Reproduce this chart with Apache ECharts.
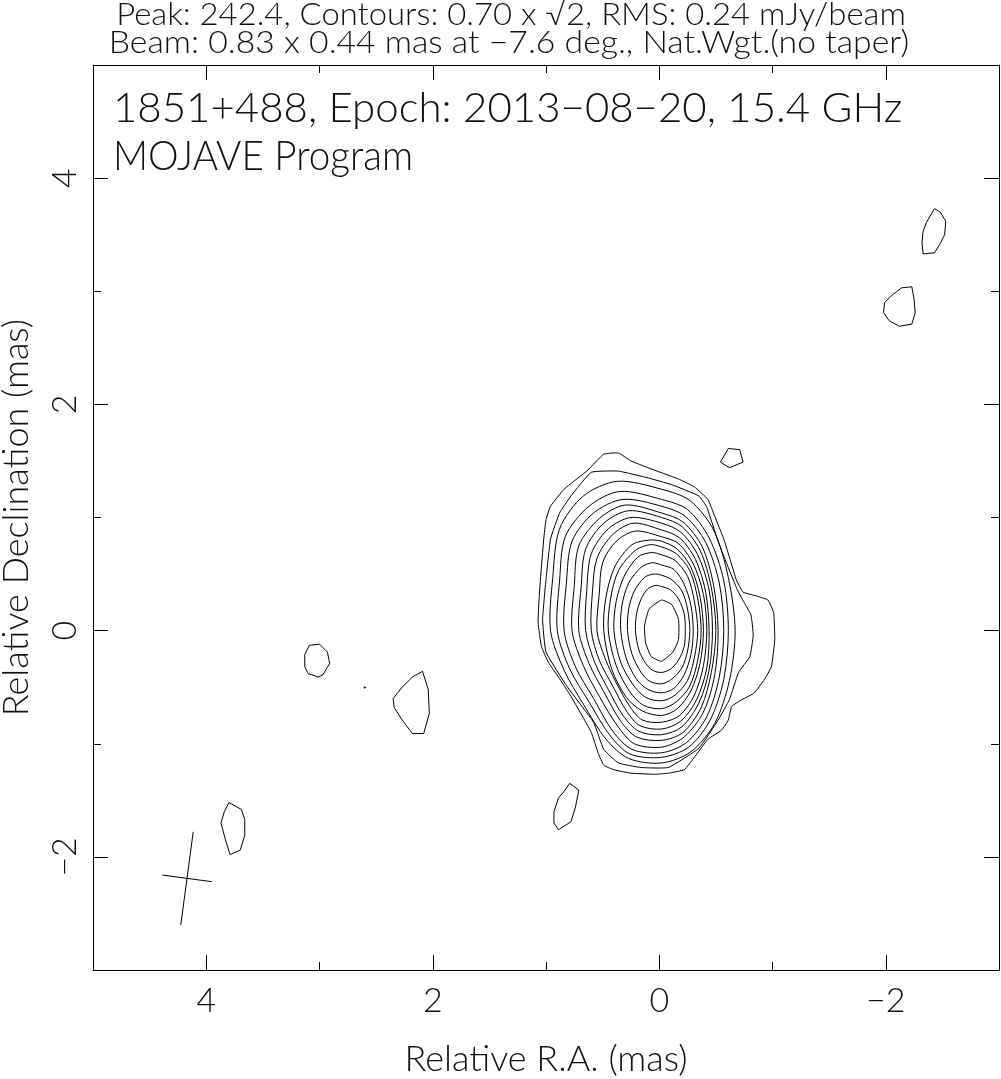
<!DOCTYPE html>
<html><head><meta charset="utf-8">
<script src="https://cdn.jsdelivr.net/npm/echarts@6/dist/echarts.min.js"></script>
<style>html,body{margin:0;padding:0;background:#fff}#c{width:1001px;height:1079px}</style>
</head><body><div id="c"></div>
<script>
// ---- Data (mas: [relative R.A., relative Dec]) ----
const headerLine1 = 'Peak: 242.4, Contours: 0.70 x \u221A2, RMS: 0.24 mJy/beam';
const headerLine2 = 'Beam: 0.83 x 0.44 mas at \u22127.6 deg., Nat.Wgt.(no taper)';
const titleLine1 = '1851+488, Epoch: 2013\u221208\u221220, 15.4 GHz';
const titleLine2 = 'MOJAVE Program';
const xAxisTitle = 'Relative R.A. (mas)';
const yAxisTitle = 'Relative Declination (mas)';
const xMajorTicks = [4, 2, 0, -2];
const xMinorTicks = [3, 1, -1];
const yMajorTicks = [4, 2, 0, -2];
const yMinorTicks = [3, 1, -1];

// contour levels 0.70 mJy/beam x sqrt(2)^k, k = 0 (outermost) .. 16 (innermost)
const level0 = [[0.49,1.56],[0.36,1.57],[0.25,1.50],[0.10,1.44],[-0.17,1.34],[-0.31,1.27],[-0.43,1.16],[-0.49,1.01],[-0.57,0.81],[-0.68,0.45],[-0.71,0.39],[-0.74,0.34],[-0.88,0.30],[-0.96,0.27],[-1.01,0.16],[-1.02,-0.08],[-0.99,-0.32],[-0.93,-0.43],[-0.84,-0.55],[-0.73,-0.61],[-0.64,-0.67],[-0.61,-0.79],[-0.55,-0.88],[-0.43,-0.96],[-0.31,-1.12],[-0.22,-1.23],[-0.08,-1.26],[0.04,-1.27],[0.25,-1.26],[0.40,-1.23],[0.49,-1.19],[0.54,-1.08],[0.60,-0.90],[0.66,-0.79],[0.78,-0.58],[0.89,-0.41],[0.98,-0.28],[1.04,-0.14],[1.07,0.07],[1.06,0.30],[1.04,0.57],[1.02,0.81],[1.0,0.98],[0.96,1.10],[0.84,1.25],[0.63,1.42]];
const level1 = [[0.60,1.40],[0.36,1.41],[0.10,1.35],[-0.11,1.29],[-0.35,1.19],[-0.42,1.09],[-0.53,0.76],[-0.69,0.36],[-0.76,0.23],[-0.81,0.14],[-0.83,-0.04],[-0.80,-0.23],[-0.70,-0.37],[-0.62,-0.61],[-0.52,-0.79],[-0.35,-1.04],[-0.08,-1.21],[0.16,-1.21],[0.36,-1.17],[0.49,-1.05],[0.58,-0.81],[0.81,-0.50],[1.0,-0.19],[1.03,0.10],[1.0,0.45],[0.96,0.81],[0.88,1.04],[0.78,1.19]];
const level2 = [[-0.02,1.25],[-0.27,1.15],[-0.48,0.89],[-0.61,0.47],[-0.67,0],[-0.62,-0.44],[-0.49,-0.82],[-0.28,-1.07],[-0.02,-1.17],[0.27,-1.13],[0.47,-0.96],[0.67,-0.65],[0.84,-0.35],[0.96,0],[0.94,0.47],[0.88,0.90],[0.67,1.19],[0.37,1.32]];
const level3 = [[-0.02,1.16],[-0.25,1.07],[-0.44,0.82],[-0.57,0.44],[-0.61,0],[-0.57,-0.43],[-0.45,-0.79],[-0.26,-1.03],[-0.02,-1.12],[0.26,-1.09],[0.44,-0.92],[0.62,-0.63],[0.79,-0.34],[0.90,0],[0.88,0.44],[0.83,0.83],[0.62,1.10],[0.35,1.23]];
const level4 = [[-0.02,1.10],[-0.23,1.01],[-0.41,0.78],[-0.53,0.42],[-0.57,0],[-0.53,-0.41],[-0.42,-0.76],[-0.24,-0.99],[-0.02,-1.08],[0.24,-1.05],[0.41,-0.89],[0.58,-0.60],[0.74,-0.32],[0.84,0],[0.82,0.42],[0.77,0.79],[0.58,1.04],[0.32,1.16]];
const level5 = [[-0.02,1.04],[-0.21,0.96],[-0.38,0.74],[-0.48,0.40],[-0.52,0],[-0.49,-0.39],[-0.39,-0.72],[-0.22,-0.94],[-0.02,-1.03],[0.22,-1.0],[0.37,-0.84],[0.53,-0.58],[0.67,-0.31],[0.77,0],[0.75,0.40],[0.71,0.75],[0.53,0.99],[0.30,1.11]];
const level6 = [[-0.02,1.0],[-0.20,0.92],[-0.36,0.71],[-0.46,0.38],[-0.50,0],[-0.46,-0.37],[-0.37,-0.68],[-0.21,-0.90],[-0.02,-0.97],[0.20,-0.94],[0.34,-0.80],[0.49,-0.54],[0.62,-0.29],[0.71,0],[0.69,0.38],[0.65,0.72],[0.49,0.95],[0.27,1.06]];
const level7 = [[-0.02,0.95],[-0.19,0.87],[-0.34,0.67],[-0.44,0.36],[-0.47,0],[-0.44,-0.35],[-0.35,-0.64],[-0.20,-0.85],[-0.02,-0.92],[0.18,-0.89],[0.32,-0.75],[0.45,-0.52],[0.57,-0.28],[0.65,0],[0.64,0.36],[0.60,0.68],[0.45,0.90],[0.25,1.0]];
const level8 = [[-0.02,0.89],[-0.18,0.82],[-0.32,0.63],[-0.41,0.34],[-0.44,0],[-0.42,-0.33],[-0.33,-0.61],[-0.19,-0.80],[-0.02,-0.87],[0.17,-0.84],[0.29,-0.71],[0.41,-0.49],[0.53,-0.26],[0.60,0],[0.59,0.34],[0.55,0.64],[0.41,0.85],[0.23,0.95]];
const level9 = [[-0.02,0.83],[-0.17,0.77],[-0.30,0.59],[-0.39,0.32],[-0.42,0],[-0.39,-0.31],[-0.31,-0.57],[-0.18,-0.75],[-0.02,-0.81],[0.15,-0.79],[0.26,-0.67],[0.38,-0.46],[0.48,-0.24],[0.55,0],[0.53,0.32],[0.50,0.60],[0.38,0.79],[0.21,0.88]];
const level10 = [[-0.02,0.79],[-0.16,0.72],[-0.28,0.56],[-0.36,0.30],[-0.39,0],[-0.36,-0.29],[-0.28,-0.53],[-0.16,-0.69],[-0.02,-0.75],[0.15,-0.71],[0.29,-0.59],[0.42,-0.34],[0.49,0],[0.47,0.30],[0.39,0.57],[0.24,0.76],[0.09,0.80]];
const level11 = [[-0.02,0.74],[-0.15,0.68],[-0.27,0.53],[-0.34,0.28],[-0.37,0],[-0.34,-0.26],[-0.27,-0.49],[-0.15,-0.63],[-0.02,-0.69],[0.14,-0.66],[0.26,-0.54],[0.38,-0.31],[0.45,0],[0.43,0.28],[0.36,0.53],[0.21,0.71],[0.08,0.76]];
const level12 = [[-0.02,0.67],[-0.14,0.62],[-0.25,0.48],[-0.31,0.26],[-0.34,0],[-0.31,-0.24],[-0.25,-0.44],[-0.14,-0.57],[-0.02,-0.62],[0.12,-0.59],[0.23,-0.48],[0.34,-0.28],[0.40,0],[0.38,0.26],[0.31,0.48],[0.19,0.65],[0.07,0.69]];
const level13 = [[-0.02,0.58],[-0.13,0.54],[-0.22,0.41],[-0.28,0.22],[-0.30,0],[-0.28,-0.21],[-0.22,-0.39],[-0.13,-0.51],[-0.02,-0.55],[0.10,-0.52],[0.20,-0.43],[0.29,-0.25],[0.34,0],[0.33,0.22],[0.27,0.42],[0.16,0.56],[0.06,0.60]];
const level14 = [[-0.02,0.49],[-0.11,0.45],[-0.20,0.35],[-0.25,0.19],[-0.27,0],[-0.25,-0.18],[-0.20,-0.33],[-0.11,-0.43],[-0.02,-0.47],[0.08,-0.45],[0.16,-0.37],[0.24,-0.21],[0.28,0],[0.27,0.19],[0.22,0.35],[0.13,0.47],[0.05,0.50]];
const level15 = [[-0.02,0.39],[-0.10,0.36],[-0.17,0.28],[-0.22,0.15],[-0.23,0],[-0.22,-0.14],[-0.17,-0.26],[-0.10,-0.34],[-0.02,-0.37],[0.06,-0.35],[0.12,-0.29],[0.18,-0.17],[0.21,0],[0.20,0.15],[0.16,0.28],[0.10,0.37],[0.03,0.40]];
const level16 = [[-0.02,0.27],[-0.11,0.23],[-0.17,0.10],[-0.17,-0.08],[-0.12,-0.19],[-0.02,-0.27],[0.07,-0.23],[0.12,-0.11],[0.13,0.04],[0.09,0.19]];

const blobNE1 = [[-2.43,3.73],[-2.48,3.70],[-2.53,3.62],[-2.52,3.50],[-2.48,3.42],[-2.43,3.34],[-2.33,3.33],[-2.32,3.43],[-2.33,3.53],[-2.36,3.61]];
const blobNE2 = [[-2.23,3.04],[-2.14,3.03],[-2.05,2.96],[-1.99,2.90],[-1.98,2.81],[-2.03,2.74],[-2.12,2.69],[-2.23,2.71],[-2.26,2.81],[-2.25,2.93]];
const blobN = [[-0.61,1.61],[-0.71,1.60],[-0.74,1.49],[-0.62,1.44],[-0.54,1.49]];
const blobS = [[0.79,-1.35],[0.71,-1.41],[0.74,-1.56],[0.78,-1.69],[0.89,-1.76],[0.93,-1.70],[0.93,-1.60],[0.89,-1.48],[0.84,-1.42]];
const blobW1 = [[3.09,-0.13],[3.00,-0.12],[2.93,-0.19],[2.91,-0.29],[2.97,-0.39],[3.01,-0.41],[3.10,-0.38],[3.13,-0.32],[3.13,-0.21]];
const blobDot = [[2.61,-0.50],[2.60,-0.51],[2.59,-0.50]];
const blobW2 = [[2.09,-0.36],[2.04,-0.52],[2.03,-0.73],[2.08,-0.91],[2.18,-0.91],[2.27,-0.79],[2.34,-0.68],[2.35,-0.60],[2.27,-0.50],[2.18,-0.41]];
const blobSW = [[3.80,-1.52],[3.69,-1.58],[3.66,-1.67],[3.66,-1.81],[3.70,-1.94],[3.79,-1.98],[3.83,-1.85],[3.87,-1.70],[3.84,-1.60]];

const beamMajor = 0.83, beamMinor = 0.44, beamPA = -7.6;
const beamCenter = [4.17, -2.19];

// ---- Build ----
const coreContours = [level0, level1, level2, level3, level4, level5, level6, level7, level8,
  level9, level10, level11, level12, level13, level14, level15, level16];
const blobContours = [blobNE1, blobNE2, blobN, blobS, blobW1, blobDot, blobW2, blobSW];
const allContours = coreContours.concat(blobContours);
const smoothOf = allContours.map((c, i) =>
  (i < 2 ? 0.12 : (i < coreContours.length - 1 ? 0.3 : (i === coreContours.length - 1 ? 0.15 : 0))));

function beamSegment(len, angleDeg) {
  const a = angleDeg * Math.PI / 180, h = len / 2;
  return [[beamCenter[0] + h * Math.sin(a), beamCenter[1] + h * Math.cos(a)],
          [beamCenter[0] - h * Math.sin(a), beamCenter[1] - h * Math.cos(a)]];
}
const fmt = v => (v < 0 ? '\u2212' + (-v) : String(v));
const FONT = 'Lato, "Liberation Sans", sans-serif';
const FW = 300;
const INK = '#000';
const TXT = '#111';

function xAx(pos, ticks, len, labels, line) {
  return {
    type: 'value', min: -3, max: 5, inverse: true, position: pos,
    axisLine: { show: line, onZero: false, lineStyle: { color: INK, width: 1 } },
    axisTick: { show: true, inside: true, length: len, customValues: ticks, lineStyle: { color: INK, width: 1 } },
    axisLabel: { show: labels, customValues: ticks, formatter: fmt, fontFamily: FONT, fontWeight: FW, fontSize: 34, color: TXT, margin: 14 },
    splitLine: { show: false },
    name: labels ? xAxisTitle : '', nameLocation: 'middle', nameGap: 71,
    nameTextStyle: { fontFamily: FONT, fontWeight: FW, fontSize: 36, color: TXT }
  };
}
function yAx(pos, ticks, len, labels, line) {
  return {
    type: 'value', min: -3, max: 5, position: pos,
    axisLine: { show: line, onZero: false, lineStyle: { color: INK, width: 1 } },
    axisTick: { show: true, inside: true, length: len, customValues: ticks, lineStyle: { color: INK, width: 1 } },
    axisLabel: { show: labels, customValues: ticks, formatter: fmt, rotate: 90, fontFamily: FONT, fontWeight: FW, fontSize: 34, color: TXT, margin: 11 },
    splitLine: { show: false },
    name: labels ? yAxisTitle : '', nameLocation: 'middle', nameGap: 59, nameRotate: 90,
    nameTextStyle: { fontFamily: FONT, fontWeight: FW, fontSize: 36, color: TXT }
  };
}

const chart = echarts.init(document.getElementById('c'), null, { renderer: 'canvas' });
chart.setOption({
  animation: false,
  backgroundColor: '#fff',
  grid: { left: 93, right: 2, top: 65, bottom: 109, containLabel: false, outerBoundsMode: 'none' },
  xAxis: [
    xAx('bottom', xMajorTicks, 15, true, true),
    xAx('bottom', xMinorTicks, 8, false, false),
    xAx('top', xMajorTicks, 15, false, true),
    xAx('top', xMinorTicks, 8, false, false)
  ],
  yAxis: [
    yAx('left', yMajorTicks, 15, true, true),
    yAx('left', yMinorTicks, 8, false, false),
    yAx('right', yMajorTicks, 15, false, true),
    yAx('right', yMinorTicks, 8, false, false)
  ],
  graphic: [
    { type: 'text', x: 511, y: 15, scaleX: 1.026, style: { text: headerLine1, font: FW + ' 32px ' + FONT, fill: TXT, textAlign: 'center', textVerticalAlign: 'middle' } },
    { type: 'text', x: 509, y: 43, scaleX: 1.055, style: { text: headerLine2, font: FW + ' 32px ' + FONT, fill: TXT, textAlign: 'center', textVerticalAlign: 'middle' } },
    { type: 'text', x: 113, y: 108, style: { text: titleLine1, font: FW + ' 42px ' + FONT, fill: TXT, textAlign: 'left', textVerticalAlign: 'middle' } },
    { type: 'text', x: 113, y: 156, scaleX: 0.92, style: { text: titleLine2, font: FW + ' 42px ' + FONT, fill: TXT, textAlign: 'left', textVerticalAlign: 'middle' } }
  ],
  series: [
    {
      type: 'custom', xAxisIndex: 0, yAxisIndex: 0, silent: true,
      data: allContours.map((c, i) => [c[0][0], c[0][1], i]),
      encode: { x: 0, y: 1 },
      renderItem: function (params, api) {
        const idx = api.value(2);
        const pts = allContours[idx].map(p => api.coord(p));
        return {
          type: 'polygon',
          shape: { points: pts, smooth: smoothOf[idx] },
          style: { fill: null, stroke: INK, lineWidth: 1 }
        };
      }
    },
    {
      type: 'line', xAxisIndex: 0, yAxisIndex: 0, silent: true, showSymbol: false,
      data: beamSegment(beamMajor, beamPA), lineStyle: { color: INK, width: 1 }
    },
    {
      type: 'line', xAxisIndex: 0, yAxisIndex: 0, silent: true, showSymbol: false,
      data: beamSegment(beamMinor, beamPA + 90), lineStyle: { color: INK, width: 1 }
    }
  ]
});
</script></body></html>
